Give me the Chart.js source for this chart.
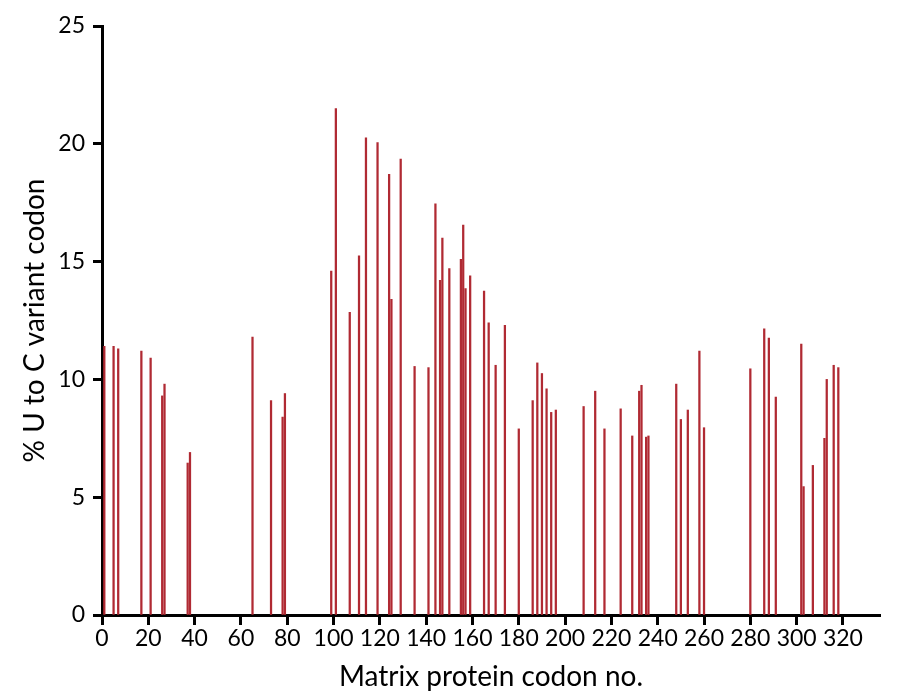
<!DOCTYPE html>
<html>
<head>
<meta charset="utf-8">
<script src="https://cdn.jsdelivr.net/npm/chart.js@4"></script>
<style>
  body { margin: 0; background: #fff; }
  #chart { display: block; }
</style>
</head>
<body>
<canvas id="chart" width="900" height="700"></canvas>
<script>
// codon positions with U-to-C variants, and their percentage
const codons = [1, 5, 7, 17, 21, 26, 27, 37, 38, 65, 73, 78, 79,
  99, 101, 107, 111, 114, 119, 124, 125, 129, 135, 141, 144, 146, 147, 150,
  155, 156, 157, 159, 165, 167, 170, 174, 180, 186, 188, 190, 192, 194, 196,
  208, 213, 217, 224, 229, 232, 233, 235, 236, 248, 250, 253, 258, 260,
  280, 286, 288, 291, 302, 303, 307, 312, 313, 316, 318];
const pctUtoC = [11.4, 11.4, 11.3, 11.2, 10.9, 9.3, 9.8, 6.45, 6.9, 11.8, 9.1, 8.4, 9.4,
  14.6, 21.5, 12.85, 15.25, 20.25, 20.05, 18.7, 13.4, 19.35, 10.55, 10.5, 17.45, 14.2, 16.0, 14.7,
  15.1, 16.55, 13.85, 14.4, 13.75, 12.4, 10.6, 12.3, 7.9, 9.1, 10.7, 10.25, 9.6, 8.6, 8.7,
  8.85, 9.5, 7.9, 8.75, 7.6, 9.5, 9.75, 7.55, 7.6, 9.8, 8.3, 8.7, 11.2, 7.95,
  10.45, 12.15, 11.75, 9.25, 11.5, 5.45, 6.35, 7.5, 10.0, 10.6, 10.5];
const xTicks = [0, 20, 40, 60, 80, 100, 120, 140, 160, 180, 200, 220, 240, 260, 280, 300, 320];
const yTicks = [0, 5, 10, 15, 20, 25];

const font = "Lato, 'Open Sans', sans-serif";

new Chart(document.getElementById('chart'), {
  type: 'bar',
  data: {
    datasets: [{
      data: codons.map((c, i) => ({ x: c, y: pctUtoC[i] })),
      backgroundColor: '#b02a33',
      borderWidth: 0,
      barThickness: 1.6
    }]
  },
  options: {
    responsive: false,
    animation: false,
    devicePixelRatio: 1,
    layout: { padding: { top: 26, right: 20, left: 0, bottom: 0 } },
    plugins: {
      legend: { display: false },
      tooltip: { enabled: false }
    },
    scales: {
      x: {
        type: 'linear',
        min: 0,
        max: 336,
        offset: false,
        grid: { display: true, offset: false, drawOnChartArea: false, drawTicks: true, tickLength: 10, tickWidth: 3, tickColor: '#000' },
        border: { display: true, color: '#000', width: 3 },
        ticks: { stepSize: 20, color: '#000', font: { family: font, size: 23 }, padding: 0, maxRotation: 0, autoSkip: false },
        afterBuildTicks: s => { s.ticks = xTicks.map(v => ({ value: v })); },
        title: { display: true, text: 'Matrix protein codon no.', color: '#000', font: { family: font, size: 28 }, padding: { top: 0, bottom: 6 } },
        afterFit: s => { s.height = 85; }
      },
      y: {
        min: 0,
        max: 25,
        grid: { display: true, offset: false, drawOnChartArea: false, drawTicks: true, tickLength: 9, tickWidth: 3, tickColor: '#000' },
        border: { display: true, color: '#000', width: 3 },
        ticks: { stepSize: 5, color: '#000', font: { family: font, size: 23 }, padding: 8 },
        afterBuildTicks: s => { s.ticks = yTicks.map(v => ({ value: v })); },
        title: { display: true, text: '% U to C variant codon', color: '#000', font: { family: font, size: 28 }, padding: { top: 18, bottom: 0 } },
        afterFit: s => { s.width = 102; }
      }
    }
  }
});
</script>
</body>
</html>
